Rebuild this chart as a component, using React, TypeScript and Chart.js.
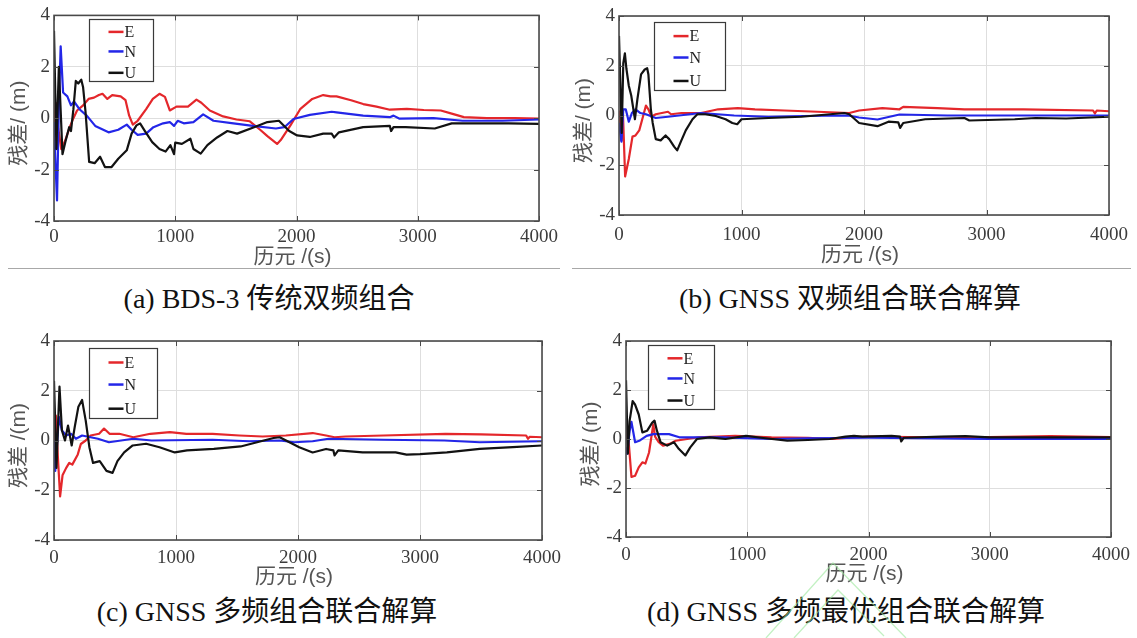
import React, { useEffect, useRef } from "react";
import { Chart, registerables } from "chart.js";

Chart.register(...registerables);

// ---- shared axis settings ----
const X_TICKS = [0, 1000, 2000, 3000, 4000];
const Y_TICKS = [-4, -2, 0, 2, 4];
const SERIES_NAMES = ["E", "N", "U"];
const SERIES_COLORS = ["#e4272b", "#2326e8", "#121212"];
const X_TITLE = "历元 /(s)";
const Y_TITLES = ["残差/ (m)", "残差/ (m)", "残差 /(m)", "残差/ (m)"];
const CAPTIONS = [
  "(a) BDS-3 传统双频组合",
  "(b) GNSS 双频组合联合解算",
  "(c) GNSS 多频组合联合解算",
  "(d) GNSS 多频最优组合联合解算",
];

// ---- (a) BDS-3 dual-frequency ----
const aE_t = [0, 15, 35, 60, 90, 130, 160, 190, 240, 285, 330, 370, 400, 440, 480, 550, 590, 620, 650, 690, 760, 815, 870, 915, 955, 1010, 1105, 1175, 1215, 1285, 1395, 1505, 1615, 1700, 1760, 1840, 1870, 1950, 2030, 2130, 2220, 2280, 2330, 2450, 2550, 2660, 2770, 2910, 3050, 3190, 3280, 3380, 3570, 3800, 4000];
const aE_v = [-0.3, 0.6, -0.4, -1.2, -0.9, -0.35, 0.0, 0.3, 0.5, 0.75, 0.8, 0.9, 0.95, 0.75, 0.9, 0.85, 0.7, 0.1, -0.25, -0.1, 0.35, 0.75, 0.95, 0.83, 0.3, 0.45, 0.45, 0.72, 0.6, 0.3, 0.07, -0.05, -0.12, -0.45, -0.7, -1.0, -0.85, -0.28, 0.35, 0.75, 0.9, 0.85, 0.85, 0.7, 0.55, 0.45, 0.33, 0.36, 0.32, 0.3, 0.18, 0.04, 0.0, 0.0, -0.02];
const aN_t = [0, 10, 25, 40, 55, 75, 110, 140, 165, 210, 270, 340, 450, 530, 600, 640, 690, 760, 820, 900, 955, 990, 1020, 1070, 1150, 1230, 1315, 1480, 1640, 1830, 1900, 1975, 2110, 2290, 2330, 2550, 2770, 2800, 2850, 3130, 3370, 3700, 4000];
const aN_v = [-0.15, -1.5, -3.2, 0.5, 2.8, 1.0, 0.85, 0.5, 0.65, 0.35, 0.1, -0.3, -0.55, -0.45, -0.25, -0.45, -0.65, -0.6, -0.35, -0.2, -0.15, -0.3, -0.1, -0.2, -0.15, 0.15, -0.1, -0.2, -0.3, -0.4, -0.35, -0.03, 0.13, 0.25, 0.23, 0.1, 0.04, 0.1, -0.02, 0.0, -0.1, -0.1, -0.05];
const aU_t = [0, 20, 40, 70, 95, 125, 140, 160, 180, 200, 225, 240, 260, 290, 335, 380, 420, 475, 530, 600, 640, 680, 710, 750, 810, 870, 920, 960, 990, 1000, 1055, 1125, 1150, 1210, 1265, 1345, 1430, 1510, 1650, 1760, 1855, 1940, 2005, 2110, 2220, 2290, 2310, 2350, 2550, 2770, 2780, 2800, 2900, 3140, 3280, 3500, 3750, 4000];
const aU_v = [3.4, -1.2, 2.0, -1.4, -0.9, -0.35, -0.5, 0.35, 1.45, 1.35, 1.5, 1.2, 0.25, -1.7, -1.75, -1.5, -1.9, -1.9, -1.58, -1.25, -0.6, -0.28, -0.2, -0.5, -0.93, -1.2, -1.3, -1.05, -1.4, -0.95, -1.0, -0.8, -1.2, -1.38, -1.05, -0.75, -0.5, -0.6, -0.35, -0.15, -0.1, -0.5, -0.67, -0.73, -0.6, -0.6, -0.75, -0.55, -0.35, -0.3, -0.5, -0.35, -0.35, -0.4, -0.2, -0.2, -0.2, -0.22];

// ---- (b) GNSS dual-frequency ----
const bE_t = [0, 20, 32, 50, 80, 110, 135, 165, 190, 220, 240, 265, 300, 400, 425, 510, 670, 810, 970, 1110, 1350, 1620, 1880, 1960, 2150, 2290, 2320, 2600, 2820, 3300, 3870, 3885, 3900, 4000];
const bE_v = [0.2, -1.0, 0.1, -2.45, -1.75, -0.85, -0.8, -0.6, -0.15, 0.4, 0.25, -0.05, 0.05, 0.15, 0.05, 0.1, 0.1, 0.25, 0.3, 0.25, 0.2, 0.15, 0.1, 0.2, 0.3, 0.25, 0.35, 0.3, 0.25, 0.25, 0.2, 0.08, 0.2, 0.17];
const bN_t = [0, 20, 35, 55, 80, 105, 135, 175, 220, 300, 400, 670, 940, 1220, 1500, 1870, 1960, 2110, 2290, 2680, 3300, 4000];
const bN_v = [-0.3, -1.05, 0.25, 0.25, -0.25, 0.1, 0.25, 0.1, 0.05, -0.1, -0.05, 0.1, 0.0, -0.05, -0.02, 0.0, -0.08, -0.16, 0.04, 0.0, 0.0, 0.0];
const bU_t = [0, 22, 35, 48, 60, 80, 100, 130, 150, 180, 210, 230, 240, 260, 275, 300, 340, 380, 410, 450, 475, 505, 545, 600, 640, 705, 790, 870, 925, 965, 1000, 1220, 1490, 1700, 1840, 1880, 1960, 2110, 2200, 2280, 2295, 2320, 2500, 2820, 2860, 3230, 3400, 3650, 4000];
const bU_v = [3.2, -0.7, 2.1, 2.5, 1.9, 1.2, 0.8, -0.15, 0.65, 1.65, 1.85, 1.9, 1.65, 0.25, -0.3, -0.95, -1.0, -0.8, -0.95, -1.25, -1.4, -1.05, -0.6, -0.15, 0.05, 0.05, -0.02, -0.15, -0.3, -0.35, -0.15, -0.1, -0.05, 0.04, 0.1, 0.05, -0.3, -0.43, -0.25, -0.28, -0.5, -0.3, -0.15, -0.1, -0.2, -0.15, -0.1, -0.12, -0.05];

// ---- (c) GNSS multi-frequency ----
const cE_t = [0, 15, 30, 50, 70, 100, 125, 150, 195, 220, 260, 300, 370, 410, 455, 535, 650, 790, 950, 1085, 1300, 1520, 1710, 1900, 2120, 2230, 2300, 2390, 2700, 3210, 3500, 3870, 3885, 3900, 4000];
const cE_v = [0.0, 1.0, -0.5, -2.25, -1.4, -1.1, -0.9, -0.97, -0.56, -0.14, 0.0, 0.2, 0.27, 0.48, 0.27, 0.27, 0.13, 0.27, 0.34, 0.27, 0.27, 0.2, 0.16, 0.2, 0.3, 0.2, 0.13, 0.16, 0.2, 0.27, 0.25, 0.2, 0.07, 0.15, 0.13];
const cN_t = [0, 10, 40, 65, 100, 140, 180, 230, 300, 360, 450, 550, 650, 800, 1300, 1600, 1850, 1970, 2120, 2250, 2700, 3200, 3490, 4000];
const cN_v = [0.0, -1.22, 0.95, 0.4, 0.2, 0.27, 0.07, 0.2, 0.13, 0.07, -0.07, 0.0, 0.07, 0.0, 0.03, -0.03, 0.0, -0.07, -0.03, 0.07, 0.03, 0.0, -0.07, -0.03];
const cU_t = [0, 20, 45, 65, 90, 115, 145, 170, 200, 230, 260, 290, 320, 375, 430, 480, 520, 575, 645, 755, 865, 990, 1090, 1310, 1530, 1720, 1800, 1850, 1930, 2010, 2120, 2230, 2290, 2300, 2330, 2530, 2800, 2890, 3000, 3220, 3490, 3760, 4000];
const cU_v = [2.4, -1.1, 2.17, 0.4, 0.0, 0.6, -0.2, 0.55, 1.36, 1.63, 0.8, -0.27, -0.9, -0.83, -1.22, -1.3, -0.83, -0.48, -0.2, -0.13, -0.27, -0.48, -0.4, -0.34, -0.24, 0.0, 0.1, 0.13, -0.07, -0.27, -0.48, -0.34, -0.4, -0.6, -0.4, -0.48, -0.48, -0.57, -0.55, -0.48, -0.34, -0.27, -0.2];

// ---- (d) GNSS optimal multi-frequency ----
const dE_t = [0, 10, 25, 45, 75, 105, 135, 160, 190, 225, 240, 270, 305, 360, 410, 600, 900, 1200, 1500, 1700, 1900, 2000, 2500, 3000, 3500, 4000];
const dE_v = [0.0, 0.5, -0.3, -1.55, -1.5, -1.16, -0.95, -1.0, -0.55, 0.6, 0.1, -0.13, -0.27, -0.2, -0.07, 0.07, 0.13, 0.07, 0.05, 0.0, 0.08, 0.1, 0.07, 0.08, 0.12, 0.08];
const dN_t = [0, 10, 30, 45, 75, 115, 170, 225, 355, 440, 800, 1200, 1500, 2000, 3000, 4000];
const dN_v = [-0.34, -0.6, 0.34, 0.7, -0.13, -0.06, 0.13, 0.2, 0.2, 0.07, 0.07, 0.0, 0.03, 0.05, 0.0, 0.0];
const dU_t = [0, 15, 30, 55, 75, 105, 135, 175, 215, 235, 255, 285, 340, 395, 435, 490, 530, 585, 690, 820, 990, 1150, 1330, 1500, 1680, 1810, 1880, 1950, 2190, 2260, 2270, 2290, 2600, 2800, 3000, 3500, 4000];
const dU_v = [2.4, -0.6, 0.75, 1.55, 1.4, 1.0, 0.27, 0.34, 0.66, 0.75, 0.34, -0.13, -0.27, -0.13, -0.4, -0.67, -0.34, 0.0, 0.07, 0.0, 0.13, 0.03, -0.07, -0.04, 0.0, 0.1, 0.13, 0.1, 0.13, 0.1, -0.1, 0.05, 0.1, 0.12, 0.07, 0.07, 0.07];

const TICK_FONT = '"Liberation Serif", "Times New Roman", serif';
const TITLE_FONT = '"Liberation Sans", "Noto Sans CJK SC", sans-serif';
const CAPTION_FONT = '"Liberation Serif", "Noto Sans CJK SC", serif';
const GRID_COLOR = "#dedede";
const AXIS_COLOR = "#4a4a4a";

type Series = { t: number[]; v: number[] };

interface PanelSpec {
  left: number;
  top: number;
  width: number;
  height: number;
  area: { l: number; t: number; r: number; b: number };
  legend: { dx: number; dy: number; w: number; h: number };
  tickPad: number;
  xTitleGap: number;
  yTitle: string;
  series: Series[];
}

const toPoints = (t: number[], v: number[]) => t.map((x, i) => ({ x, y: v[i] }));

const PANELS: PanelSpec[] = [
  {
    left: 0, top: 0, width: 568, height: 268,
    area: { l: 54, t: 14, r: 539, b: 221 },
    legend: { dx: 35, dy: 4, w: 64, h: 62 },
    tickPad: 5, xTitleGap: 36, yTitle: Y_TITLES[0],
    series: [{ t: aE_t, v: aE_v }, { t: aN_t, v: aN_v }, { t: aU_t, v: aU_v }],
  },
  {
    left: 568, top: 0, width: 569, height: 268,
    area: { l: 51, t: 16, r: 543, b: 215 },
    legend: { dx: 35, dy: 6, w: 71, h: 68 },
    tickPad: 9, xTitleGap: 40, yTitle: Y_TITLES[1],
    series: [{ t: bE_t, v: bE_v }, { t: bN_t, v: bN_v }, { t: bU_t, v: bU_v }],
  },
  {
    left: 0, top: 320, width: 568, height: 272,
    area: { l: 54, t: 21, r: 543, b: 220 },
    legend: { dx: 35, dy: 7, w: 68, h: 70 },
    tickPad: 7, xTitleGap: 37, yTitle: Y_TITLES[2],
    series: [{ t: cE_t, v: cE_v }, { t: cN_t, v: cN_v }, { t: cU_t, v: cU_v }],
  },
  {
    left: 568, top: 320, width: 569, height: 272,
    area: { l: 58, t: 21, r: 546, b: 217 },
    legend: { dx: 22, dy: 4, w: 66, h: 64 },
    tickPad: 7, xTitleGap: 37, yTitle: Y_TITLES[3],
    series: [{ t: dE_t, v: dE_v }, { t: dN_t, v: dN_v }, { t: dU_t, v: dU_v }],
  },
];

function Panel({ spec }: { spec: PanelSpec }) {
  const ref = useRef<HTMLCanvasElement>(null);

  useEffect(() => {
    const canvas = ref.current;
    if (!canvas) return;
    const { area, legend } = spec;

    // box, inward ticks, inset legend and axis titles in MATLAB style
    const decor = {
      id: "panelDecor",
      afterDatasetsDraw(chart: any) {
        const { ctx, chartArea: ca, scales } = chart;
        const xs = scales.x;
        const ys = scales.y;
        ctx.save();

        ctx.strokeStyle = AXIS_COLOR;
        ctx.lineWidth = 1;
        ctx.beginPath();
        for (const v of X_TICKS) {
          const px = Math.round(xs.getPixelForValue(v)) + 0.5;
          ctx.moveTo(px, ca.bottom);
          ctx.lineTo(px, ca.bottom - 5);
          ctx.moveTo(px, ca.top);
          ctx.lineTo(px, ca.top + 5);
        }
        for (const v of Y_TICKS) {
          const py = Math.round(ys.getPixelForValue(v)) + 0.5;
          ctx.moveTo(ca.left, py);
          ctx.lineTo(ca.left + 5, py);
          ctx.moveTo(ca.right, py);
          ctx.lineTo(ca.right - 5, py);
        }
        ctx.stroke();

        ctx.lineWidth = 1.6;
        ctx.strokeRect(ca.left, ca.top, ca.right - ca.left, ca.bottom - ca.top);

        // legend
        const bx = Math.round(ca.left + legend.dx) + 0.5;
        const by = Math.round(ca.top + legend.dy) + 0.5;
        ctx.fillStyle = "#ffffff";
        ctx.fillRect(bx, by, legend.w, legend.h);
        ctx.strokeStyle = "#3a3a3a";
        ctx.lineWidth = 1.2;
        ctx.strokeRect(bx, by, legend.w, legend.h);
        const rows = [0.2, 0.515, 0.86];
        ctx.font = `16px ${TICK_FONT}`;
        ctx.textBaseline = "middle";
        ctx.textAlign = "left";
        SERIES_NAMES.forEach((name, i) => {
          const y = by + legend.h * rows[i];
          ctx.strokeStyle = SERIES_COLORS[i];
          ctx.lineWidth = 2.5;
          ctx.beginPath();
          ctx.moveTo(bx + 19, y);
          ctx.lineTo(bx + 34, y);
          ctx.stroke();
          ctx.fillStyle = "#222";
          ctx.fillText(name, bx + 35, y + 1);
        });

        // axis titles
        ctx.fillStyle = "#555";
        ctx.font = `21px ${TITLE_FONT}`;
        ctx.textAlign = "center";
        ctx.textBaseline = "middle";
        ctx.fillText(X_TITLE, (ca.left + ca.right) / 2 - 4, ca.bottom + spec.xTitleGap);
        ctx.translate(ca.left - 35, (ca.top + ca.bottom) / 2 + 5);
        ctx.rotate(-Math.PI / 2);
        ctx.fillText(spec.yTitle, 0, 0);

        ctx.restore();
      },
    };

    const chart = new Chart(canvas, {
      type: "line",
      data: {
        datasets: spec.series.map((s, i) => ({
          label: SERIES_NAMES[i],
          data: toPoints(s.t, s.v),
          borderColor: SERIES_COLORS[i],
          backgroundColor: SERIES_COLORS[i],
          borderWidth: 2.2,
          pointRadius: 0,
          tension: 0,
          fill: false,
          borderJoinStyle: "round",
          order: 3 - i,
        })),
      },
      options: {
        responsive: false,
        animation: false,
        devicePixelRatio: 1,
        layout: {
          padding: { left: 0, top: area.t, right: spec.width - area.r, bottom: 0 },
        },
        plugins: {
          legend: { display: false },
          tooltip: { enabled: false },
          title: { display: false },
        },
        scales: {
          x: {
            type: "linear",
            min: 0,
            max: 4000,
            afterFit: (s: any) => {
              s.height = spec.height - area.b;
            },
            afterBuildTicks: (s: any) => {
              s.ticks = X_TICKS.map((value) => ({ value }));
            },
            ticks: {
              autoSkip: false,
              maxRotation: 0,
              padding: spec.tickPad,
              color: "#3c3c3c",
              font: { family: TICK_FONT, size: 19 },
              callback: (v: any) => String(v),
            },
            grid: { color: GRID_COLOR, lineWidth: 1, drawTicks: false },
            border: { display: false },
          },
          y: {
            type: "linear",
            min: -4,
            max: 4,
            afterFit: (s: any) => {
              s.width = area.l;
            },
            afterBuildTicks: (s: any) => {
              s.ticks = Y_TICKS.map((value) => ({ value }));
            },
            ticks: {
              autoSkip: false,
              padding: 4,
              color: "#3c3c3c",
              font: { family: TICK_FONT, size: 19 },
              callback: (v: any) => String(v),
            },
            grid: { color: GRID_COLOR, lineWidth: 1, drawTicks: false },
            border: { display: false },
          },
        },
      },
      plugins: [decor],
    } as any);

    return () => chart.destroy();
  }, [spec]);

  return (
    <canvas
      ref={ref}
      width={spec.width}
      height={spec.height}
      style={{
        position: "absolute",
        left: spec.left,
        top: spec.top,
        width: spec.width,
        height: spec.height,
      }}
    />
  );
}

const CAPTION_POS = [
  { cx: 269, base: 308 },
  { cx: 850, base: 308 },
  { cx: 267, base: 621 },
  { cx: 846, base: 621 },
];

export default function App() {
  return (
    <div
      style={{
        position: "absolute",
        left: 0,
        top: 0,
        width: 1137,
        height: 638,
        background: "#ffffff",
        overflow: "hidden",
      }}
    >
      {PANELS.map((p, i) => (
        <Panel key={i} spec={p} />
      ))}
      <div style={{ position: "absolute", left: 8, top: 268, width: 552, height: 1, background: "#a8a8a8" }} />
      <div style={{ position: "absolute", left: 572, top: 268, width: 559, height: 1, background: "#a8a8a8" }} />
      {CAPTIONS.map((c, i) => (
        <div
          key={c}
          style={{
            position: "absolute",
            left: CAPTION_POS[i].cx - 300,
            width: 600,
            top: CAPTION_POS[i].base - 23,
            textAlign: "center",
            font: `28px ${CAPTION_FONT}`,
            lineHeight: "28px",
            color: "#111",
            whiteSpace: "nowrap",
          }}
        >
          {c}
        </div>
      ))}
      <svg
        width={1137}
        height={638}
        style={{ position: "absolute", left: 0, top: 0, pointerEvents: "none" }}
      >
        <polyline points="766,638 833,563 906,638" fill="none" stroke="#9be89b" strokeWidth={1.3} opacity={0.6} />
        <polyline points="794,638 838,590 884,636" fill="none" stroke="#9be89b" strokeWidth={1.3} opacity={0.6} />
      </svg>
    </div>
  );
}
